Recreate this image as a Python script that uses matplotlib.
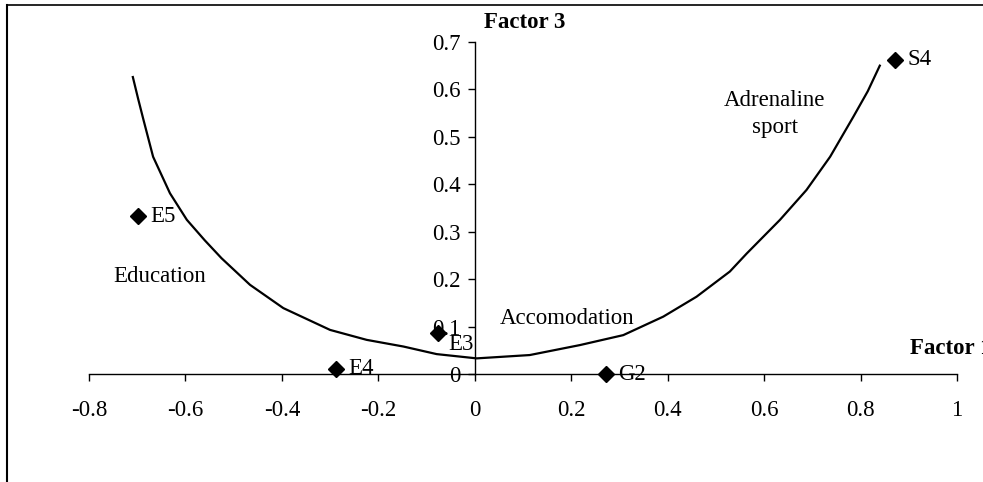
import matplotlib
matplotlib.use("Agg")
from matplotlib import pyplot as plt
from matplotlib.lines import Line2D

plt.rcParams['font.family'] = ['Liberation Serif', 'DejaVu Serif']
plt.rcParams['axes.unicode_minus'] = False

# points (Factor 1, Factor 3)
pointNames = ["S4", "E5", "E3", "E4", "G2"]
factor1 = [0.871, -0.699, -0.077, -0.288, 0.272]
factor3 = [0.662, 0.333, 0.086, 0.011, 0.0]

# hand drawn grouping curve
curveX = [-0.709, -0.698, -0.687, -0.667, -0.632, -0.597, -0.560, -0.525, -0.466,
          -0.397, -0.300, -0.224, -0.148, -0.079, 0.004, 0.114, 0.218, 0.308,
          0.391, 0.460, 0.529, 0.564, 0.633, 0.688, 0.737, 0.785, 0.815, 0.840]
curveY = [0.626, 0.580, 0.536, 0.458, 0.381, 0.325, 0.282, 0.244, 0.188,
          0.139, 0.093, 0.072, 0.058, 0.042, 0.033, 0.040, 0.061, 0.082,
          0.121, 0.163, 0.216, 0.254, 0.325, 0.388, 0.458, 0.542, 0.596, 0.650]

xTicks = [-0.8, -0.6, -0.4, -0.2, 0, 0.2, 0.4, 0.6, 0.8, 1]
yTicks = [0, 0.1, 0.2, 0.3, 0.4, 0.5, 0.6, 0.7]

fs = 16.5

fig = plt.figure(figsize=(9.83, 4.82), dpi=100)
ax = fig.add_axes([0.0905, 0.224, 0.883, 0.689])

ax.plot(curveX, curveY, color='black', linewidth=1.6, clip_on=False,
        solid_joinstyle='round')
ax.plot(factor1, factor3, linestyle='none', marker='D', markersize=8,
        color='black', clip_on=False, zorder=5)

# data labels, offset like excel puts them
offsets = {"S4": (9, 0), "E5": (9, 0), "E3": (8, -8), "E4": (9, 0), "G2": (9, 0)}
for name, x, y in zip(pointNames, factor1, factor3):
    ax.annotate(name, (x, y), xytext=offsets[name], textcoords='offset points',
                ha='left', va='center', fontsize=fs, annotation_clip=False)

ax.text(-0.653, 0.205, "Education", ha='center', va='center', fontsize=fs)
ax.text(0.191, 0.118, "Accomodation", ha='center', va='center', fontsize=fs)
ax.text(0.622, 0.548, "Adrenaline\nsport", ha='center', va='center', fontsize=fs,
        linespacing=1.4)

ax.text(0.02, 0.742, "Factor 3", ha='left', va='center', fontsize=fs,
        fontweight='bold', clip_on=False)
ax.text(0.902, 0.053, "Factor 1", ha='left', va='center', fontsize=fs,
        fontweight='bold', clip_on=False)

ax.set_xlim(-0.8, 1)
ax.set_ylim(0, 0.7)
ax.spines['left'].set_position(('data', 0))
ax.spines['bottom'].set_position(('data', 0))
ax.spines['top'].set_visible(False)
ax.spines['right'].set_visible(False)
ax.spines['left'].set_linewidth(1)
ax.spines['bottom'].set_linewidth(1)
ax.set_xticks(xTicks)
ax.set_yticks(yTicks)
ax.set_xticklabels([f"{t:g}" for t in xTicks])
ax.set_yticklabels([f"{t:g}" for t in yTicks])
ax.tick_params(axis='x', direction='out', length=5, width=1, pad=14, labelsize=fs)
ax.tick_params(axis='y', direction='out', length=5, width=1, pad=5, labelsize=fs)
ax.patch.set_visible(False)

# chart area border (left and top edges show in the scan)
fig.add_artist(Line2D([0.007, 0.007], [0, 0.99], transform=fig.transFigure,
                      color='black', linewidth=1.5))
fig.add_artist(Line2D([0.007, 1], [0.99, 0.99], transform=fig.transFigure,
                      color='black', linewidth=1.2))

fig.savefig("out.png", dpi=100)
